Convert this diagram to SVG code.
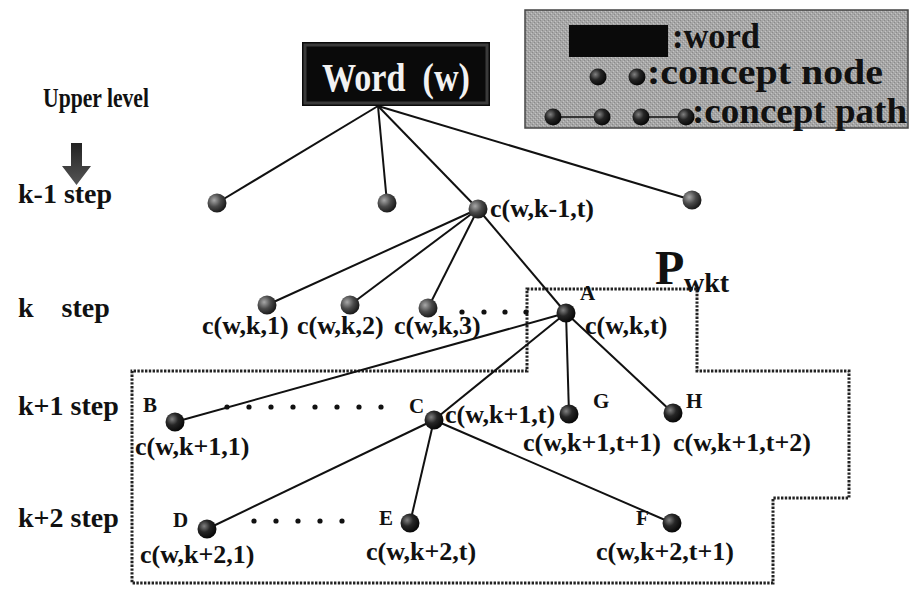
<svg xmlns="http://www.w3.org/2000/svg" width="910" height="589" viewBox="0 0 910 589">
<defs>
<radialGradient id="ball" cx="0.35" cy="0.35" r="0.7">
<stop offset="0" stop-color="#808080"/>
<stop offset="0.45" stop-color="#262626"/>
<stop offset="1" stop-color="#050505"/>
</radialGradient>
<radialGradient id="ballLight" cx="0.35" cy="0.35" r="0.7">
<stop offset="0" stop-color="#a8a8a8"/>
<stop offset="0.5" stop-color="#4a4a4a"/>
<stop offset="1" stop-color="#151515"/>
</radialGradient>
<linearGradient id="arrowGrad" x1="0" y1="0" x2="0" y2="1">
<stop offset="0" stop-color="#222"/>
<stop offset="1" stop-color="#555"/>
</linearGradient>
<pattern id="dither" width="4" height="4" patternUnits="userSpaceOnUse">
<rect width="4" height="4" fill="#a6a6a6"/>
<rect x="0" y="0" width="1" height="1" fill="#8a8a8a"/>
<rect x="2" y="2" width="1" height="1" fill="#8a8a8a"/>
<rect x="1" y="3" width="1" height="1" fill="#c4c4c4"/>
<rect x="3" y="1" width="1" height="1" fill="#c4c4c4"/>
</pattern>
</defs>
<style>
text{font-family:"Liberation Serif","Times New Roman",serif;font-weight:bold;fill:#111}
.lvl{font-size:28px}
.lab{font-size:26px}
.let{font-size:21px}
.leg{font-size:35px}
.edge{stroke:#111;stroke-width:2;fill:none}
.n{fill:url(#ball)}
.nl{fill:url(#ballLight)}
.dot{fill:#111}
.region{fill:none;stroke:#222;stroke-width:3;stroke-dasharray:2.4 1.4}
</style>
<rect width="910" height="589" fill="#ffffff"/>

<!-- legend -->
<g id="legend">
<rect x="525" y="10" width="383" height="118" fill="url(#dither)" stroke="#444" stroke-width="1.5"/>
<rect x="569" y="25" width="99" height="32" fill="#0a0a0a"/>
<text class="leg" x="672" y="48" textLength="88" lengthAdjust="spacingAndGlyphs">:word</text>
<circle class="n" cx="598" cy="77" r="8.5"/>
<circle class="n" cx="637" cy="77" r="8.5"/>
<text class="leg" x="647" y="84" textLength="236" lengthAdjust="spacingAndGlyphs">:concept node</text>
<line x1="553" y1="117" x2="602" y2="117" stroke="#111" stroke-width="1.5"/>
<line x1="641" y1="117" x2="686" y2="117" stroke="#111" stroke-width="1.5"/>
<circle class="n" cx="553" cy="117" r="8.5"/>
<circle class="n" cx="602" cy="117" r="8.5"/>
<circle class="n" cx="641" cy="117" r="8.5"/>
<circle class="n" cx="686" cy="117" r="8.5"/>
<text class="leg" x="692" y="123" textLength="215" lengthAdjust="spacingAndGlyphs">:concept path</text>
</g>

<!-- level labels -->
<g id="levels">
<text x="43" y="107" style="font-size:28px" textLength="106" lengthAdjust="spacingAndGlyphs">Upper level</text>
<polygon points="71,143 82,143 82,166 91,166 76.5,185 62,166 71,166" fill="url(#arrowGrad)"/>
<text class="lvl" x="18" y="203">k-1 step</text>
<text class="lvl" x="18" y="317" xml:space="preserve">k    step</text>
<text class="lvl" x="18" y="415">k+1 step</text>
<text class="lvl" x="18" y="527">k+2 step</text>
</g>

<!-- dashed path region -->
<g id="region-Pwkt">
<polygon class="region" points="527,289 697,289 697,371 849,371 849,498 773,498 773,583 132,583 132,371 527,371"/>
<text x="655" y="284" style="font-size:48px">P</text>
<text x="684" y="292" style="font-size:28px">wkt</text>
</g>

<!-- connectors -->
<g id="connectors">
<line class="edge" x1="378" y1="106" x2="217" y2="203"/>
<line class="edge" x1="378" y1="106" x2="387" y2="203"/>
<line class="edge" x1="378" y1="106" x2="478" y2="209"/>
<line class="edge" x1="378" y1="106" x2="692" y2="200"/>
<line class="edge" x1="478" y1="209" x2="267" y2="305"/>
<line class="edge" x1="478" y1="209" x2="350" y2="305"/>
<line class="edge" x1="478" y1="209" x2="428" y2="308"/>
<line class="edge" x1="478" y1="209" x2="566" y2="313"/>
<line class="edge" x1="566" y1="313" x2="175" y2="422"/>
<line class="edge" x1="566" y1="313" x2="434" y2="420"/>
<line class="edge" x1="566" y1="313" x2="569" y2="414"/>
<line class="edge" x1="566" y1="313" x2="673" y2="413"/>
<line class="edge" x1="434" y1="420" x2="207" y2="529"/>
<line class="edge" x1="434" y1="420" x2="410" y2="523"/>
<line class="edge" x1="434" y1="420" x2="672" y2="523"/>
</g>

<!-- word node -->
<g id="word">
<rect x="302" y="42" width="188" height="64" fill="#0a0a0a"/>
<rect x="305" y="45" width="182" height="58" fill="none" stroke="#3a3a3a" stroke-width="3"/>
<text x="322" y="91" style="font-size:40px;fill:#f2f2f2" textLength="148" lengthAdjust="spacingAndGlyphs" xml:space="preserve">Word  (w)</text>
</g>

<!-- k-1 step nodes -->
<g id="n-k-1-1"><circle class="nl" cx="217" cy="203" r="9.5"/></g>
<g id="n-k-1-2"><circle class="nl" cx="387" cy="203" r="9.5"/></g>
<g id="n-k-1-t"><circle class="nl" cx="478" cy="209" r="9.5"/><text class="lab" x="490" y="217">c(w,k-1,t)</text></g>
<g id="n-k-1-4"><circle class="nl" cx="692" cy="200" r="9.5"/></g>

<!-- k step nodes -->
<g id="n-k-1"><circle class="nl" cx="267" cy="305" r="9.5"/><text class="lab" x="202" y="334">c(w,k,1)</text></g>
<g id="n-k-2"><circle class="nl" cx="350" cy="305" r="9.5"/><text class="lab" x="297" y="334">c(w,k,2)</text></g>
<g id="n-k-3"><circle class="nl" cx="428" cy="308" r="9.5"/><text class="lab" x="394" y="334">c(w,k,3)</text></g>
<g id="dots-k">
<circle class="dot" cx="462" cy="312" r="2.6"/>
<circle class="dot" cx="484" cy="312" r="2.6"/>
<circle class="dot" cx="505" cy="312" r="2.6"/>
<circle class="dot" cx="526" cy="312" r="2.6"/>
</g>
<g id="n-A"><circle class="n" cx="566" cy="313" r="9.5"/><text class="let" x="580" y="300">A</text><text class="lab" x="585" y="334">c(w,k,t)</text></g>

<!-- k+1 step nodes -->
<g id="n-B"><circle class="n" cx="175" cy="422" r="9.5"/><text class="let" x="143" y="412">B</text><text class="lab" x="135" y="455">c(w,k+1,1)</text></g>
<g id="dots-k1">
<circle class="dot" cx="227" cy="407" r="2.6"/>
<circle class="dot" cx="249" cy="407" r="2.6"/>
<circle class="dot" cx="271" cy="407" r="2.6"/>
<circle class="dot" cx="293" cy="407" r="2.6"/>
<circle class="dot" cx="315" cy="407" r="2.6"/>
<circle class="dot" cx="337" cy="407" r="2.6"/>
<circle class="dot" cx="359" cy="407" r="2.6"/>
<circle class="dot" cx="381" cy="407" r="2.6"/>
</g>
<g id="n-C"><circle class="n" cx="434" cy="420" r="9.5"/><text class="let" x="409" y="413">C</text><text class="lab" x="445" y="423">c(w,k+1,t)</text></g>
<g id="n-G"><circle class="n" cx="569" cy="414" r="9.5"/><text class="let" x="593" y="408">G</text><text class="lab" x="523" y="451">c(w,k+1,t+1)</text></g>
<g id="n-H"><circle class="n" cx="673" cy="413" r="9.5"/><text class="let" x="686" y="408">H</text><text class="lab" x="673" y="451">c(w,k+1,t+2)</text></g>

<!-- k+2 step nodes -->
<g id="n-D"><circle class="n" cx="207" cy="529" r="9.5"/><text class="let" x="173" y="527">D</text><text class="lab" x="140" y="563">c(w,k+2,1)</text></g>
<g id="dots-k2">
<circle class="dot" cx="254" cy="521" r="2.6"/>
<circle class="dot" cx="276" cy="521" r="2.6"/>
<circle class="dot" cx="298" cy="521" r="2.6"/>
<circle class="dot" cx="320" cy="521" r="2.6"/>
<circle class="dot" cx="342" cy="521" r="2.6"/>
</g>
<g id="n-E"><circle class="n" cx="410" cy="523" r="9.5"/><text class="let" x="379" y="525">E</text><text class="lab" x="366" y="560">c(w,k+2,t)</text></g>
<g id="n-F"><circle class="n" cx="672" cy="523" r="9.5"/><text class="let" x="636" y="525">F</text><text class="lab" x="596" y="560">c(w,k+2,t+1)</text></g>
</svg>
